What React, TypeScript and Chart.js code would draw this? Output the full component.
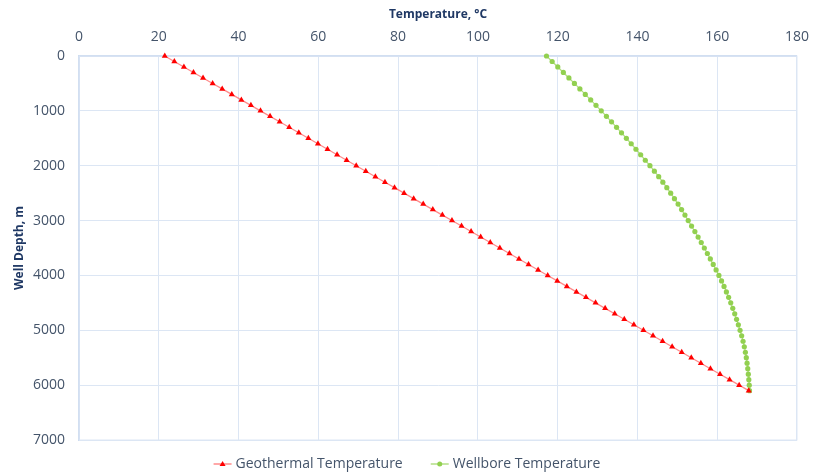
import React, { useEffect, useRef } from "react";
import { Chart, registerables } from "chart.js";

Chart.register(...registerables);

const depths = [
  0, 100, 200, 300, 400, 500, 600, 700, 800, 900,
  1000, 1100, 1200, 1300, 1400, 1500, 1600, 1700, 1800, 1900,
  2000, 2100, 2200, 2300, 2400, 2500, 2600, 2700, 2800, 2900,
  3000, 3100, 3200, 3300, 3400, 3500, 3600, 3700, 3800, 3900,
  4000, 4100, 4200, 4300, 4400, 4500, 4600, 4700, 4800, 4900,
  5000, 5100, 5200, 5300, 5400, 5500, 5600, 5700, 5800, 5900,
  6000, 6100,
];

const geothermalTemp = [
  21.5, 23.9, 26.3, 28.7, 31.1, 33.5, 35.9, 38.3, 40.7, 43.1,
  45.5, 47.9, 50.3, 52.7, 55.1, 57.5, 59.9, 62.3, 64.7, 67.1,
  69.5, 71.9, 74.3, 76.7, 79.1, 81.5, 83.9, 86.3, 88.7, 91.1,
  93.5, 95.9, 98.3, 100.7, 103.1, 105.5, 107.9, 110.3, 112.7, 115.1,
  117.5, 119.9, 122.3, 124.7, 127.1, 129.5, 131.9, 134.3, 136.7, 139.1,
  141.5, 143.9, 146.3, 148.7, 151.1, 153.5, 155.9, 158.3, 160.7, 163.1,
  165.5, 167.9,
];

const wellboreTemp = [
  117.2, 118.62, 120.03, 121.43, 122.82, 124.2, 125.57, 126.93, 128.28, 129.61,
  130.93, 132.23, 133.51, 134.77, 136.01, 137.23, 138.44, 139.63, 140.81, 141.97,
  143.13, 144.25, 145.33, 146.37, 147.37, 148.34, 149.28, 150.19, 151.07, 151.91,
  152.73, 153.57, 154.4, 155.21, 156.0, 156.77, 157.53, 158.27, 159.0, 159.72,
  160.43, 161.09, 161.71, 162.3, 162.86, 163.39, 163.9, 164.39, 164.85, 165.3,
  165.73, 166.13, 166.48, 166.79, 167.06, 167.29, 167.49, 167.66, 167.8, 167.92,
  168.03, 168.1,
];

const seriesNames = ["Geothermal Temperature", "Wellbore Temperature"];
const xTitle = "Temperature, °C";
const yTitle = "Well Depth, m";

const FONT = "'Open Sans', sans-serif";
const TICK_COLOR = "#44546A";
const TITLE_COLOR = "#1F3864";
const GRID_COLOR = "#DCE6F4";
const RED = "#FF0000";
const RED_LINE = "rgba(255,100,100,0.75)";
const GREEN = "#92D050";
const GREEN_LINE = "rgba(146,208,80,0.7)";

const legendPlugin = {
  id: "customLegend",
  afterDraw: (c: any) => {
    const { ctx, chartArea } = c;
    ctx.save();
    ctx.font = `14px ${FONT}`;
    const items = [
      { text: seriesNames[0], line: RED_LINE, color: RED, marker: "triangle" },
      { text: seriesNames[1], line: GREEN_LINE, color: GREEN, marker: "circle" },
    ];
    const iconW = 18;
    const gapIconText = 4;
    const gapItems = 28;
    const widths = items.map((it) => ctx.measureText(it.text).width);
    const total = widths.reduce((a: number, w: number) => a + iconW + gapIconText + w, 0) + gapItems * (items.length - 1);
    let x = (chartArea.left + chartArea.right) / 2 - total / 2 - 31;
    const y = 464;
    items.forEach((it, i) => {
      ctx.strokeStyle = it.line;
      ctx.lineWidth = 1.5;
      ctx.beginPath();
      ctx.moveTo(x, y);
      ctx.lineTo(x + iconW, y);
      ctx.stroke();
      ctx.fillStyle = it.color;
      ctx.beginPath();
      const cx = x + iconW / 2;
      if (it.marker === "triangle") {
        ctx.moveTo(cx, y - 3);
        ctx.lineTo(cx + 3, y + 2);
        ctx.lineTo(cx - 3, y + 2);
        ctx.closePath();
      } else {
        ctx.arc(cx, y, 2.5, 0, Math.PI * 2);
      }
      ctx.fill();
      ctx.fillStyle = TICK_COLOR;
      ctx.textAlign = "left";
      ctx.textBaseline = "middle";
      ctx.fillText(it.text, x + iconW + gapIconText, y);
      x += iconW + gapIconText + widths[i] + gapItems;
    });
    ctx.restore();
  },
};

const framePlugin = {
  id: "frame",
  beforeDatasetsDraw: (c: any) => {
    const { ctx, chartArea } = c;
    ctx.save();
    ctx.strokeStyle = GRID_COLOR;
    ctx.lineWidth = 1;
    ctx.strokeRect(chartArea.left, chartArea.top, chartArea.right - chartArea.left, chartArea.bottom - chartArea.top);
    ctx.restore();
  },
};

export default function App() {
  const ref = useRef<HTMLCanvasElement | null>(null);

  useEffect(() => {
    if (!ref.current) return;

    const chart = new Chart(ref.current, {
      type: "scatter",
      data: {
        datasets: [
          {
            label: seriesNames[0],
            data: depths.map((d, i) => ({ x: geothermalTemp[i], y: d })),
            showLine: true,
            clip: false,
            borderColor: RED_LINE,
            borderWidth: 1.25,
            pointStyle: "triangle",
            pointRadius: 3.5,
            pointBackgroundColor: RED,
            pointBorderColor: RED,
            pointBorderWidth: 0,
          },
          {
            label: seriesNames[1],
            data: depths.map((d, i) => ({ x: wellboreTemp[i], y: d })),
            showLine: true,
            clip: false,
            borderColor: GREEN_LINE,
            borderWidth: 1.25,
            pointStyle: "circle",
            pointRadius: 2.6,
            pointBackgroundColor: GREEN,
            pointBorderColor: GREEN,
            pointBorderWidth: 0,
          },
        ],
      },
      options: {
        animation: false,
        responsive: true,
        maintainAspectRatio: false,
        layout: { padding: { left: 0, right: 14, top: 0, bottom: 35 } },
        scales: {
          x: {
            type: "linear",
            position: "top",
            min: 0,
            max: 180,
            ticks: {
              stepSize: 20,
              color: TICK_COLOR,
              font: { family: FONT, size: 14 },
              padding: 11,
              callback: (v: any) => String(v),
            },
            grid: { color: GRID_COLOR, drawTicks: false, lineWidth: 1 },
            border: { color: "#C9D8EF", width: 1.5 },
            title: {
              display: true,
              text: xTitle,
              color: TITLE_COLOR,
              font: { family: FONT, size: 12, weight: "bold" },
              padding: { top: 7, bottom: 0 },
            },
            afterFit: (s: any) => {
              s.height = 56;
            },
          },
          y: {
            type: "linear",
            reverse: true,
            min: 0,
            max: 7000,
            ticks: {
              stepSize: 1000,
              color: TICK_COLOR,
              font: { family: FONT, size: 14 },
              padding: 14,
              callback: (v: any) => String(v),
            },
            grid: { color: GRID_COLOR, drawTicks: false, lineWidth: 1 },
            border: { color: "#C9D8EF", width: 1.5 },
            title: {
              display: true,
              text: yTitle,
              color: TITLE_COLOR,
              font: { family: FONT, size: 12, weight: "bold" },
              padding: { top: 12, bottom: 0 },
            },
            afterFit: (s: any) => {
              s.width = 79;
            },
          },
        },
        plugins: {
          legend: { display: false },
          tooltip: { enabled: false },
        },
      },
      plugins: [framePlugin, legendPlugin],
    } as any);
    return () => chart.destroy();
  }, []);

  return (
    <div style={{ position: "fixed", left: 0, top: 0, width: 820, height: 475, background: "#fff" }}>
      <canvas ref={ref} />
    </div>
  );
}
